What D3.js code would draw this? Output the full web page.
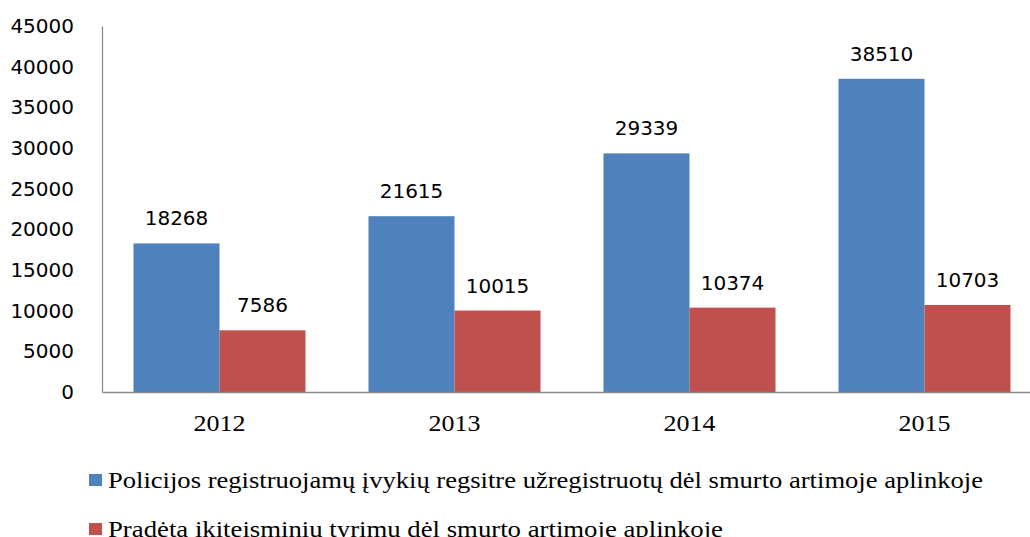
<!DOCTYPE html>
<html><head><meta charset="utf-8">
<script src="https://cdn.jsdelivr.net/npm/d3@7"></script>
<style>
html,body{margin:0;padding:0;background:#fff;overflow:hidden}
svg{display:block}
</style></head>
<body>
<svg id="c" width="1030" height="537"></svg>
<script>
const categories = ["2012","2013","2014","2015"];
const seriesNames = [
  "Policijos registruojamų įvykių regsitre užregistruotų dėl smurto artimoje aplinkoje",
  "Pradėta ikiteisminių tyrimų dėl smurto artimoje aplinkoje"
];
const policeValues = [18268, 21615, 29339, 38510];
const investigationValues = [7586, 10015, 10374, 10703];
const yTicks = [0,5000,10000,15000,20000,25000,30000,35000,40000,45000];
const colors = ["#4F81BD","#C0504D"];
const series = [policeValues, investigationValues];

const svg = d3.select("#c");
const x0 = d3.scaleBand().domain(categories).range([102,1042]).paddingInner(0.268).paddingOuter(0.134);
const x1 = d3.scaleBand().domain([0,1]).range([0,x0.bandwidth()]);
const y = d3.scaleLinear().domain([0,45000]).range([392,26]);

// bars
const groups = svg.append("g").selectAll("g").data(categories).join("g")
  .attr("transform", d => `translate(${x0(d)},0)`);
groups.selectAll("rect").data((d,i) => series.map((s,k) => ({k, v: s[i]}))).join("rect")
  .attr("x", d => x1(d.k))
  .attr("width", x1.bandwidth())
  .attr("y", d => y(d.v))
  .attr("height", d => y(0) - y(d.v))
  .attr("fill", d => colors[d.k]);

// data labels
groups.selectAll("text").data((d,i) => series.map((s,k) => ({k, v: s[i]}))).join("text")
  .attr("x", d => x1(d.k) + x1.bandwidth()/2)
  .attr("y", d => y(d.v) - 18)
  .attr("text-anchor","middle")
  .attr("font-family","DejaVu Sans")
  .attr("font-size", 20)
  .attr("fill","#000")
  .text(d => d.v);

// y axis
const yAxis = svg.append("g").attr("transform","translate(102,0)")
  .call(d3.axisLeft(y).tickValues(yTicks).tickSize(0).tickPadding(28).tickFormat(d3.format("d")));
yAxis.select(".domain").attr("stroke","#868686").attr("stroke-width",1.2);
yAxis.selectAll("text").attr("font-family","DejaVu Sans").attr("font-size",20).attr("fill","#000");

// x axis
const xAxis = svg.append("g").attr("transform","translate(0,392)")
  .call(d3.axisBottom(x0).tickSize(0).tickPadding(22));
xAxis.select(".domain").attr("stroke","#868686").attr("stroke-width",1.5);
xAxis.selectAll("text").attr("font-family","Liberation Serif").attr("font-size",24).attr("fill","#000")
  .attr("textLength",52).attr("lengthAdjust","spacingAndGlyphs");

// legend
const legend = svg.append("g").selectAll("g").data(seriesNames).join("g")
  .attr("transform",(d,i) => `translate(89,${474 + i*49})`);
legend.append("rect").attr("width",13).attr("height",12).attr("fill",(d,i)=>colors[i]);
legend.append("text").attr("x",19).attr("y",14)
  .attr("font-family","Liberation Serif").attr("font-size",24).attr("fill","#000")
  .attr("textLength",(d,i)=> i===0 ? 875 : 615).attr("lengthAdjust","spacingAndGlyphs")
  .text(d=>d);
</script>
</body></html>
